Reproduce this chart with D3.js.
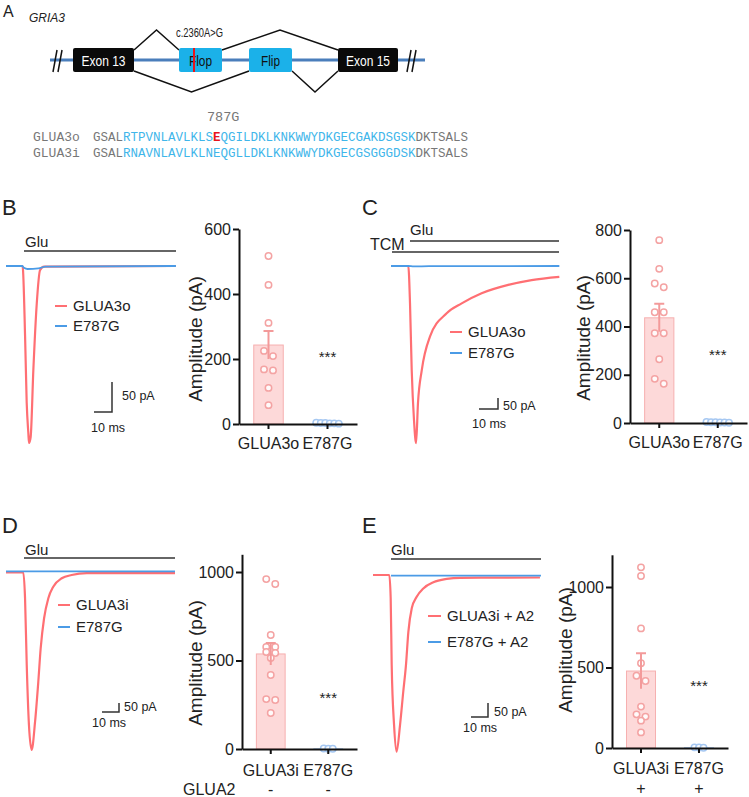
<!DOCTYPE html>
<html>
<head>
<meta charset="utf-8">
<script src="https://cdn.jsdelivr.net/npm/d3@7"></script>
<style>
  body { margin: 0; background: #fff; }
  text { font-family: "Liberation Sans", Arial, sans-serif; fill: #222; }
</style>
</head>
<body>
<svg id="fig" width="749" height="797"></svg>
<script>
// ---------- panel A data
var exonNames = ["Exon 13", "Flop", "Flip", "Exon 15"];
var spliceTop = [[0, 1], [1, 3]];
var spliceBottom = [[0, 2], [2, 3]];
var mutation = "c.2360A>G";
var mutLabel = "787G";
var seqLabels = ["GLUA3o", "GLUA3i"];
var seqs = ["GSALRTPVNLAVLKLSEQGILDKLKNKWWYDKGECGAKDSGSKDKTSALS",
            "GSALRNAVNLAVLKLNEQGLLDKLKNKWWYDKGECGSGGGDSKDKTSALS"];
var flopStart = 4, flopEnd = 43, mutIndex = 16;

// ---------- traces, [time ms, current pA]
var traceB_o = [[0,0],[8.9,0],[9.3,-2],[10.6,-117],[11.5,-228],[12.4,-278],[12.8,-295],[13.7,-285],[15.2,-173],[17.1,-62],[18.9,-7],[21.1,-1],[94.4,0]];
var traceB_g = [[0,0],[9,0],[10,-3],[12,-5],[18,-4],[22,-1],[94.4,0]];
var traceC_o = [[0,0],[9.1,0],[10.0,-168],[10.9,-473],[12.1,-700],[13.2,-805],[14.2,-623],[16.2,-473],[20.5,-321],[29.3,-215],[37.2,-170],[47.7,-124],[61.7,-86],[74.0,-64],[88.6,-49]];
var traceC_g = [[0,0],[9,0],[12,-2],[20,-1],[88.6,0]];
var traceD_o = [[0,0],[10.2,0],[11.2,-142],[12.2,-514],[13.5,-847],[15.1,-986],[17.1,-829],[19.0,-607],[20.4,-421],[22.4,-254],[24.9,-143],[27.8,-79],[32.8,-32],[38.6,-14],[47.5,-4],[99.4,-4]];
var traceD_g = [[0,6],[99.4,6]];
var traceE_o = [[0,0],[9.6,0],[10.4,-82],[11.0,-321],[12.4,-536],[13.9,-631],[15.9,-536],[17.8,-417],[19.4,-321],[20.8,-203],[22.8,-119],[25.7,-78],[29.6,-48],[35.5,-26],[43.4,-14],[51.2,-10],[98.2,-9]];
var traceE_g = [[10.6,-2],[98.8,-2]];

// ---------- amplitudes (pA)
var catsB = ["GLUA3o", "E787G"];
var ampB_o = [517, 428, 311, 225, 209, 168, 165, 111, 58];
var ampB_g = [3, 2, 4, 1, 3, 2];
var meanB = [243, 2], semB = [43, 0.5];

var catsC = ["GLUA3o", "E787G"];
var ampC_o = [758, 639, 578, 563, 459, 459, 372, 372, 264, 183, 163];
var ampC_g = [2, 3, 1, 4, 2, 3];
var meanC = [436, 2], semC = [58, 0.5];

var catsD = ["GLUA3i", "E787G"];
var ampD_o = [960, 932, 644, 576, 576, 548, 542, 514, 418, 282, 277, 203];
var ampD_g = [2, 3, 1];
var meanD = [537, 2], semD = [62, 0.5];

var catsE = ["GLUA3i", "E787G"];
var ampE_o = [1122, 1068, 743, 526, 449, 416, 257, 209, 195, 170, 97];
var ampE_g = [3, 2, 4];
var meanE = [478, 3], semE = [110, 0.5];

// ---------- styles
var red = "#ff6f73", blue = "#4b9be6";
var barFill = ["#fdd9d9", "#dbe9fb"], barStroke = ["#f6b0b0", "#b9d3f4"];
var dotStroke = ["#f4a3a3", "#a6c8f2"];
var ink = "#222";

var svg = d3.select("#fig");

function txt(x, y, s, size, anchor) {
  return svg.append("text").attr("x", x).attr("y", y)
    .attr("text-anchor", anchor || "start")
    .style("font-size", size + "px").text(s);
}

// ================= panel A
txt(3, 17, "A", 16);
txt(29, 22, "GRIA3", 12).style("font-style", "italic");

var boxX = [[73, 134], [179, 222], [249, 292], [338, 398]];
var labelW = [44, 23, 19, 44];
var boxTop = 48, boxBot = 72;
var gA = svg.append("g");

gA.append("line").attr("x1", 50).attr("x2", 425).attr("y1", 60).attr("y2", 60)
  .attr("stroke", "#4a7ebb").attr("stroke-width", 3);

// break marks
[[53, 58], [407, 412]].forEach(function(p) {
  p.forEach(function(bx) {
    gA.append("line").attr("x1", bx).attr("y1", 72).attr("x2", bx + 4).attr("y2", 50)
      .attr("stroke", "#111").attr("stroke-width", 1.5);
  });
});

// splice lines
function splice(pair, yEnd, yPeak) {
  var xa = boxX[pair[0]][1], xb = boxX[pair[1]][0];
  gA.append("path")
    .attr("d", d3.line()([[xa, yEnd], [(xa + xb) / 2, yPeak], [xb, yEnd]]))
    .attr("fill", "none").attr("stroke", "#111").attr("stroke-width", 1.5);
}
spliceTop.forEach(function(p) { splice(p, 50, 30); });
spliceBottom.forEach(function(p) { splice(p, 71, 92); });

exonNames.forEach(function(name, i) {
  var dark = name.indexOf("Exon") === 0;
  gA.append("rect").attr("x", boxX[i][0]).attr("y", boxTop)
    .attr("width", boxX[i][1] - boxX[i][0]).attr("height", boxBot - boxTop)
    .attr("rx", 2).attr("fill", dark ? "#0a0a0a" : "#1bb1e9");
  gA.append("text").attr("x", (boxX[i][0] + boxX[i][1]) / 2).attr("y", 65.5)
    .attr("text-anchor", "middle").style("font-size", "14px")
    .attr("textLength", labelW[i]).attr("lengthAdjust", "spacingAndGlyphs")
    .style("fill", dark ? "#fff" : "#111").text(name);
});
gA.append("line").attr("x1", 194).attr("x2", 194).attr("y1", boxTop).attr("y2", boxBot)
  .attr("stroke", "#e8141b").attr("stroke-width", 2);
txt(176, 37, mutation, 12.5).attr("textLength", 47).attr("lengthAdjust", "spacingAndGlyphs");

// sequences
txt(207, 121, mutLabel, 13.5).style("font-family", "'Liberation Mono', monospace").style("fill", "#777");
seqs.forEach(function(seq, r) {
  var y = 141 + r * 16;
  txt(33, y, seqLabels[r], 13).style("font-family", "'Liberation Mono', monospace").style("fill", "#777");
  var t = svg.append("text").attr("x", 93).attr("y", y)
    .style("font-family", "'Liberation Mono', monospace").style("font-size", "12.5px");
  var parts = [[seq.slice(0, flopStart), "#777", false]];
  if (r === 0) {
    parts.push([seq.slice(flopStart, mutIndex), "#3fb6ea", false]);
    parts.push([seq.slice(mutIndex, mutIndex + 1), "#e8141b", true]);
    parts.push([seq.slice(mutIndex + 1, flopEnd), "#3fb6ea", false]);
  } else {
    parts.push([seq.slice(flopStart, flopEnd), "#3fb6ea", false]);
  }
  parts.push([seq.slice(flopEnd), "#777", false]);
  parts.forEach(function(p) {
    t.append("tspan").text(p[0]).style("fill", p[1]).style("font-weight", p[2] ? "bold" : "normal");
  });
});

// ================= traces
function tracePanel(o) {
  var g = svg.append("g");
  var x = d3.scaleLinear().domain([0, 1]).range([o.x0, o.x0 + o.pxMs]);
  var y = d3.scaleLinear().domain([0, 1]).range([o.y0, o.y0 - o.pxPA]);
  var line = d3.line().x(function(d) { return x(d[0]); }).y(function(d) { return y(d[1]); })
    .curve(d3.curveMonotoneX);
  g.append("path").attr("d", line(o.red)).attr("fill", "none")
    .attr("stroke", red).attr("stroke-width", 2.2);
  g.append("path").attr("d", line(o.blue)).attr("fill", "none")
    .attr("stroke", blue).attr("stroke-width", 1.8);

  // application bars
  o.bars.forEach(function(b) {
    g.append("line").attr("x1", b[0]).attr("x2", b[1]).attr("y1", b[2]).attr("y2", b[2])
      .attr("stroke", "#333").attr("stroke-width", 1.5);
    txt(b[3], b[4], b[5], b[6] || 15);
  });

  // legend
  o.legend.forEach(function(l, i) {
    var ly = o.legY[i];
    g.append("line").attr("x1", o.legX).attr("x2", o.legX + o.legW).attr("y1", ly).attr("y2", ly)
      .attr("stroke", i === 0 ? red : blue).attr("stroke-width", 2);
    txt(o.legX + o.legW + 6, ly + 5, l, 15);
  });

  // scale bar: 10 ms, 50 pA
  var cx = o.sb[0], cy = o.sb[1];
  var w = x(10) - x(0), h = y(0) - y(50);
  g.append("path").attr("d", "M" + (cx - w) + "," + cy + "H" + cx + "V" + (cy - h))
    .attr("fill", "none").attr("stroke", "#333").attr("stroke-width", 1.5);
  txt(o.sbText[0], o.sbText[1], "50 pA", 12.5);
  txt(o.sbText[2], o.sbText[3], "10 ms", 12.5);
}

tracePanel({ x0: 6, y0: 266, pxMs: 1.8, pxPA: 0.6, red: traceB_o, blue: traceB_g,
  bars: [[24, 176, 251, 25, 247, "Glu"]],
  legend: ["GLUA3o", "E787G"], legX: 55, legW: 12, legY: [306, 326],
  sb: [112, 412], sbText: [122, 400, 91, 432] });

tracePanel({ x0: 391, y0: 266, pxMs: 1.9, pxPA: 0.22, red: traceC_o, blue: traceC_g,
  bars: [[410, 559, 241, 410, 235, "Glu"], [392, 559, 252, 370, 250, "TCM", 16]],
  legend: ["GLUA3o", "E787G"], legX: 450, legW: 12, legY: [332, 353],
  sb: [498, 409], sbText: [503, 410, 472, 428] });

tracePanel({ x0: 6, y0: 572.5, pxMs: 1.7, pxPA: 0.18, red: traceD_o, blue: traceD_g,
  bars: [[24, 175, 558, 25, 555, "Glu"]],
  legend: ["GLUA3i", "E787G"], legX: 58, legW: 12, legY: [605, 627],
  sb: [119, 712], sbText: [124, 711, 92, 727] });

tracePanel({ x0: 373, y0: 575, pxMs: 1.7, pxPA: 0.28, red: traceE_o, blue: traceE_g,
  bars: [[391, 541, 559, 391, 555, "Glu"]],
  legend: ["GLUA3i + A2", "E787G + A2"], legX: 428, legW: 13, legY: [616, 642],
  sb: [488, 717], sbText: [494, 716, 463, 732] });

// ================= bar charts
function dodge(vals, y, cx, step, maxGroup) {
  var idx = d3.range(vals.length).sort(function(a, b) { return vals[b] - vals[a]; });
  var out = [], group = [];
  function flush() {
    group.forEach(function(k, j) {
      out.push([cx + (j - (group.length - 1) / 2) * step, y(vals[k])]);
    });
    group = [];
  }
  idx.forEach(function(k) {
    if (group.length && (Math.abs(y(vals[k]) - y(vals[group[group.length - 1]])) > 6 || group.length >= maxGroup)) flush();
    group.push(k);
  });
  flush();
  return out;
}

function barPanel(o) {
  var g = svg.append("g");
  var x = d3.scaleBand().domain(o.cats).range(o.xr).paddingInner(0.5).paddingOuter(0.25);
  var y = d3.scaleLinear().domain([0, o.ymax]).range(o.yr);

  g.selectAll(".bar").data(o.means).enter().append("rect")
    .attr("x", function(d, i) { return x(o.cats[i]); })
    .attr("y", function(d) { return y(d); })
    .attr("width", x.bandwidth())
    .attr("height", function(d) { return y(0) - y(d); })
    .attr("fill", function(d, i) { return barFill[i]; })
    .attr("stroke", function(d, i) { return barStroke[i]; }).attr("stroke-width", 1);

  // points
  o.groups.forEach(function(vals, i) {
    var cx = x(o.cats[i]) + x.bandwidth() / 2;
    var pts = i === 0 ? dodge(vals, y, cx, 9, 2) : dodge(vals, y, cx, 4.5, 8);
    g.selectAll(".pt" + i).data(pts).enter().append("circle")
      .attr("cx", function(d) { return d[0]; }).attr("cy", function(d) { return d[1]; })
      .attr("r", 3.2).attr("fill", "#fff").attr("fill-opacity", 0.85)
      .attr("stroke", dotStroke[i]).attr("stroke-width", 1.5);
  });

  // sem
  o.means.forEach(function(m, i) {
    if (i > 0) return;
    var cx = x(o.cats[i]) + x.bandwidth() / 2;
    g.append("path")
      .attr("d", "M" + cx + "," + y(m - o.sems[i]) + "V" + y(m + o.sems[i]) +
        "M" + (cx - 5) + "," + y(m + o.sems[i]) + "H" + (cx + 5))
      .attr("fill", "none").attr("stroke", "#f39a9a").attr("stroke-width", 2);
  });

  var ya = g.append("g").attr("transform", "translate(" + o.xr[0] + ",0)")
    .call(d3.axisLeft(y).tickValues(o.ticks).tickFormat(d3.format("d"))
      .tickSize(6).tickSizeOuter(0).tickPadding(2));
  ya.selectAll("text").style("font-size", "16px").style("font-family", "'Liberation Sans', Arial, sans-serif").attr("fill", ink);
  ya.selectAll("line, path").attr("stroke", "#111").attr("stroke-width", 2);

  var xa = g.append("g").attr("transform", "translate(0," + y(0) + ")")
    .call(d3.axisBottom(x).tickSize(5).tickSizeOuter(0).tickPadding(o.xPad));
  xa.selectAll("text").style("font-size", "16px").style("font-family", "'Liberation Sans', Arial, sans-serif").attr("fill", ink);
  xa.selectAll("line, path").attr("stroke", "#111").attr("stroke-width", 2);

  g.append("text").attr("transform", "translate(" + o.ylab[0] + "," + o.ylab[1] + ") rotate(-90)")
    .attr("text-anchor", "middle").attr("dy", "0.35em").style("font-size", "19px")
    .text("Amplitude (pA)");

  var sx = x(o.cats[1]) + x.bandwidth() / 2;
  g.append("text").attr("x", sx).attr("y", o.starY).attr("text-anchor", "middle")
    .style("font-size", "15px").text("***");

  if (o.row) {
    if (o.row.label) txt(o.row.lx, o.row.y, o.row.label, 16);
    o.row.marks.forEach(function(m, i) {
      txt(x(o.cats[i]) + x.bandwidth() / 2, o.row.y, m, 16, "middle");
    });
  }
}

barPanel({ cats: catsB, groups: [ampB_o, ampB_g], means: meanB, sems: semB,
  xr: [239, 357], yr: [424, 229], ymax: 600, ticks: [0, 200, 400, 600],
  xPad: 9, ylab: [195, 339], starY: 362 });

barPanel({ cats: catsC, groups: [ampC_o, ampC_g], means: meanC, sems: semC,
  xr: [630, 747], yr: [423, 230], ymax: 800, ticks: [0, 200, 400, 600, 800],
  xPad: 9, ylab: [583, 338], starY: 360 });

barPanel({ cats: catsD, groups: [ampD_o, ampD_g], means: meanD, sems: semD,
  xr: [242, 357], yr: [749, 749 - 1100 * 0.177], ymax: 1100, ticks: [0, 500, 1000],
  xPad: 11, ylab: [195, 663], starY: 703,
  row: { label: "GLUA2", lx: 183, y: 795, marks: ["-", "-"] } });

barPanel({ cats: catsE, groups: [ampE_o, ampE_g], means: meanE, sems: semE,
  xr: [612, 728], yr: [748, 748 - 1200 * 0.161], ymax: 1200, ticks: [0, 500, 1000],
  xPad: 10, ylab: [565, 650], starY: 691,
  row: { marks: ["+", "+"], y: 794 } });

// panel letters
txt(2, 215, "B", 22);
txt(362, 215, "C", 22);
txt(2, 533, "D", 22);
txt(362, 533, "E", 22);
</script>
</body>
</html>
